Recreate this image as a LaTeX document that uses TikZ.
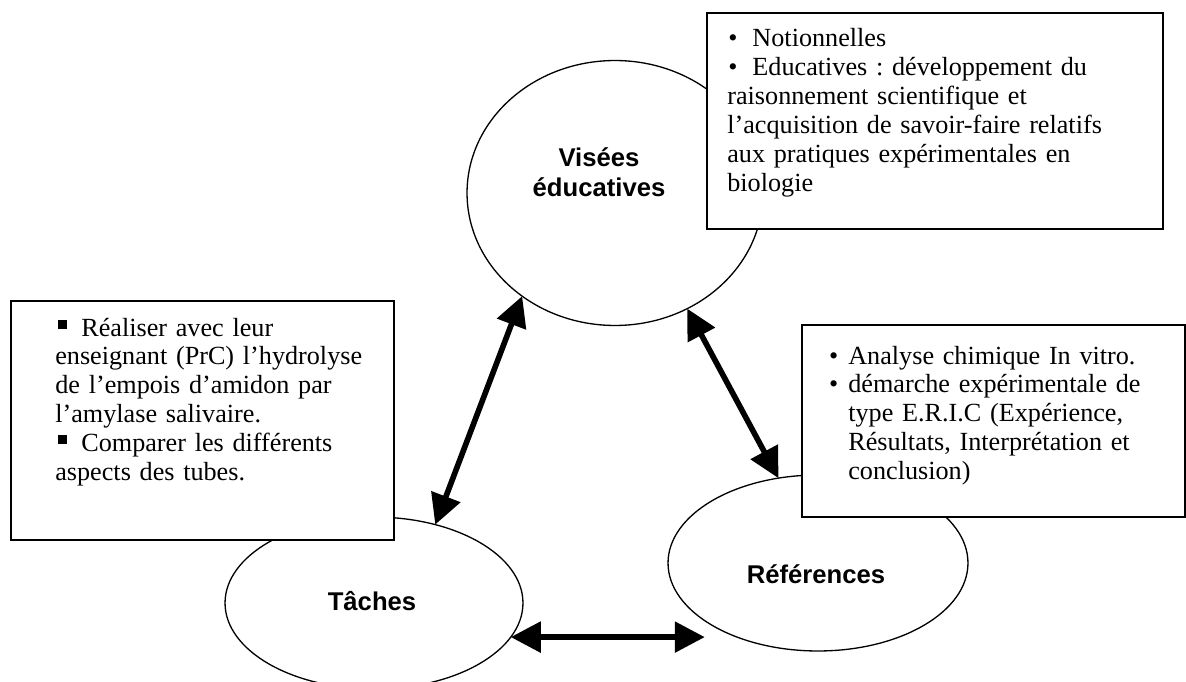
\documentclass[tikz,border=0pt]{standalone}
\usepackage{fontspec}
\setmainfont{Liberation Serif}
\setsansfont{Liberation Sans}
\usetikzlibrary{positioning,arrows.meta}
\usetikzlibrary{shapes.geometric}

\tikzstyle{bulle} = [draw, ellipse, line width=0.75pt, inner sep=0pt, outer sep=0pt]
\tikzstyle{boite} = [draw, fill=white, line width=1.1pt, inner sep=0pt, outer sep=0pt, anchor=north west]
\tikzstyle{texte} = [anchor=base west, inner sep=0pt, align=left, font=\fontsize{14.9}{16.4}\selectfont\frenchspacing]
\tikzstyle{titre} = [align=center, inner sep=0pt, font=\fontsize{14.6}{16.8}\selectfont\sffamily\bfseries]
\tikzstyle{fleche} = [line width=3.2pt, {Triangle[length=6mm,width=6mm]}-{Triangle[length=6mm,width=6mm]}]

\newcommand{\carre}{\hspace*{0.06cm}\rule[0.15cm]{0.18cm}{0.18cm}\hspace*{0.28cm}}
\newcommand{\puce}{\leavevmode\llap{\textbullet\hspace{0.2cm}}}

\begin{document}
\begin{tikzpicture}[x=0.02cm, y=-0.02cm]
\useasboundingbox (0,0) rectangle (1186,682);

% les trois poles
\node[bulle, minimum width=5.92cm, minimum height=5.3cm] (v) at (615,193) {};
\node[bulle, minimum width=5.96cm, minimum height=3.44cm] (t) at (374,603) {};
\node[bulle, minimum width=6cm, minimum height=3.52cm] (r) at (818,563) {};

\node[titre] (vl) at (599,172) {Visées\\éducatives};
\node[titre] (tl) at (372,601) {Tâches};
\node[titre] (rl) at (816,574) {Références};

% les cadres
\node[boite, minimum width=9.12cm, minimum height=4.32cm] (vb) at (707,13) {};
\node[boite, minimum width=7.66cm, minimum height=4.78cm] (tb) at (11,301) {};
\node[boite, minimum width=7.66cm, minimum height=3.84cm] (rb) at (802,325) {};

\node[texte, text width=8.4cm] (vt) at (727,47)
  {\hspace*{0.02cm}\textbullet\hspace*{0.3cm}Notionnelles\\
   \hspace*{0.02cm}\textbullet\hspace*{0.3cm}Educatives : développement du\\
   raisonnement scientifique et\\
   l’acquisition de savoir-faire relatifs\\
   aux pratiques expérimentales en\\
   biologie};

\node[texte, text width=7.2cm] (tt) at (55,336)
  {\carre Réaliser avec leur\\
   enseignant (PrC) l’hydrolyse\\
   de l’empois d’amidon par\\
   l’amylase salivaire.\\
   \carre Comparer les différents\\
   aspects des tubes.};

\node[texte, text width=6.4cm] (rt) at (848,364)
  {\puce Analyse chimique In vitro.\\
   \puce démarche expérimentale de\\
   type E.R.I.C (Expérience,\\
   Résultats, Interprétation et\\
   conclusion)};

% les fleches
\draw[fleche] (t.52) -- (v.228);
\draw[fleche] (v.302) -- (r.115);
\draw[fleche] (t.-14) -- (t.-14 -| r.207);

\end{tikzpicture}
\end{document}
